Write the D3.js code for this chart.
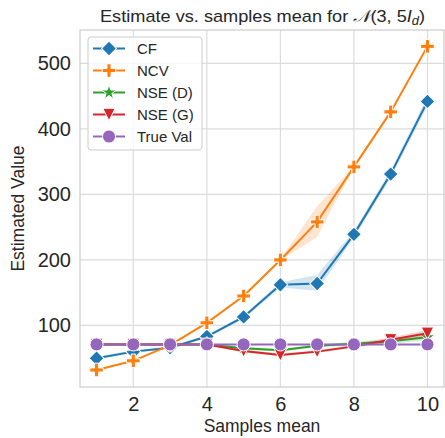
<!DOCTYPE html>
<html>
<head>
<meta charset="utf-8">
<script src="https://cdn.jsdelivr.net/npm/d3@7"></script>
<style>
  body { margin: 0; background: #fff; }
  svg { font-family: "Liberation Sans", Arial, sans-serif; }
</style>
</head>
<body>
<svg width="445" height="438"></svg>
<script>
    // Data
    var samplesMean = [1, 2, 3, 4, 5, 6, 7, 8, 9, 10];

    var cfMean = [50, 60, 66, 83, 113, 162, 164, 239, 331, 442];
    var cfLow  = [48, 58, 64, 81, 110, 158, 153, 234, 325, 435];
    var cfHigh = [52, 62, 68, 85, 116, 166, 177, 244, 337, 449];

    var ncvMean = [32, 46, 70, 104, 145, 200, 258, 342, 426, 526];
    var ncvLow  = [31, 45, 69, 103, 144, 199, 235, 341, 425, 525];
    var ncvHigh = [33, 47, 71, 105, 146, 201, 282, 343, 427, 527];

    var nseDMean = [71, 71, 71, 71, 65, 62, 69, 72, 76, 82];
    var nseDLow  = [70, 70, 70, 70, 63, 60, 67, 69, 72, 77];
    var nseDHigh = [72, 72, 72, 72, 67, 64, 71, 75, 80, 87];

    var nseGMean = [71, 71, 71, 71, 61, 55, 60, 68, 78, 88];
    var nseGLow  = [70, 70, 70, 70, 59, 53, 58, 66, 74, 83];
    var nseGHigh = [72, 72, 72, 72, 63, 57, 62, 70, 82, 93];

    var trueVal = [71, 71, 71, 71, 71, 71, 71, 71, 71, 71];

    var yTicks = [100, 200, 300, 400, 500];
    var xTicks = [2, 4, 6, 8, 10];

    var svg = d3.select("svg");
    // plot box (names avoid window.top etc.)
    var pL = 80, pR = 444, pT = 30, pB = 387;
    var textCol = "#262626", gridCol = "#dcdcdc";

    var x = d3.scaleLinear().domain([0.55, 10.45]).range([pL, pR]);
    var y = d3.scaleLinear().domain([6, 551]).range([pB, pT]);

    // grid
    svg.append("g").selectAll("line").data(xTicks).enter().append("line")
        .attr("x1", d => x(d)).attr("x2", d => x(d))
        .attr("y1", pT).attr("y2", pB)
        .attr("stroke", gridCol).attr("stroke-width", 1.2);
    svg.append("g").selectAll("line").data(yTicks).enter().append("line")
        .attr("x1", pL).attr("x2", pR)
        .attr("y1", d => y(d)).attr("y2", d => y(d))
        .attr("stroke", gridCol).attr("stroke-width", 1.2);

    // frame
    svg.append("rect")
        .attr("x", pL).attr("y", pT)
        .attr("width", pR - pL).attr("height", pB - pT)
        .attr("fill", "none").attr("stroke", "#cccccc").attr("stroke-width", 1.2);

    // axes (labels only, seaborn whitegrid has no tick marks)
    var xAxis = svg.append("g")
        .attr("transform", "translate(0," + pB + ")")
        .call(d3.axisBottom(x).tickValues(xTicks).tickSize(0).tickPadding(10));
    var yAxis = svg.append("g")
        .attr("transform", "translate(" + pL + ",0)")
        .call(d3.axisLeft(y).tickValues(yTicks).tickSize(0).tickPadding(9));
    [xAxis, yAxis].forEach(function(a) {
        a.select(".domain").remove();
        a.selectAll("text")
            .attr("fill", textCol)
            .style("font-size", "20px")
            .style("font-family", "'Liberation Sans', Arial, sans-serif");
    });

    // axis titles
    svg.append("text")
        .attr("x", (pL + pR) / 2).attr("y", 432)
        .attr("text-anchor", "middle").attr("fill", textCol)
        .style("font-size", "17.5px")
        .text("Samples mean");
    svg.append("text")
        .attr("transform", "translate(24," + ((pT + pB) / 2) + ") rotate(-90)")
        .attr("text-anchor", "middle").attr("fill", textCol)
        .style("font-size", "17.5px")
        .text("Estimated Value");

    // title: plain part + mathtext-like part
    var title = svg.append("text")
        .attr("x", 100).attr("y", 22)
        .attr("fill", textCol)
        .style("font-size", "17px");
    title.append("tspan").text("Estimate vs. samples mean for ");
    title.append("tspan").style("font-family", "'DejaVu Serif', serif").style("font-style", "italic").text("\uD835\uDCA9");
    title.append("tspan").text("(3, 5");
    title.append("tspan").style("font-style", "italic").text("I");
    title.append("tspan").style("font-style", "italic")
        .style("font-size", "12px").attr("dy", 3).text("d");
    title.append("tspan").attr("dy", -3).text(")");
    // squeeze / stretch to the width seen in the reference (x 100..425)
    var tw = title.node().getComputedTextLength();
    if (tw > 0) title.attr("textLength", 325).attr("lengthAdjust", "spacingAndGlyphs");

    // marker shapes
    var plusPath = function(s) {
        var a = s, b = s * 0.3;
        return "M" + (-b) + "," + (-a) + "H" + b + "V" + (-b) + "H" + a + "V" + b + "H" + b + "V" + a +
               "H" + (-b) + "V" + b + "H" + (-a) + "V" + (-b) + "H" + (-b) + "Z";
    };
    var triDownPath = function(s) {
        return "M" + (-s) + "," + (-s) + "L" + s + "," + (-s) + "L0," + s + "Z";
    };
    var markers = {
        diamond: { d: d3.symbol(d3.symbolSquare, 110)(), rot: 45 },
        plus: { d: plusPath(6.8), rot: 0 },
        star: { d: d3.symbol(d3.symbolStar, 70)(), rot: 0 },
        tri: { d: triDownPath(6.2), rot: 0 },
        circle: { d: d3.symbol(d3.symbolCircle, 135)(), rot: 0 }
    };

    var series = [
        { name: "CF", color: "#1f77b4", mean: cfMean, lo: cfLow, hi: cfHigh, marker: "diamond" },
        { name: "NCV", color: "#ff7f0e", mean: ncvMean, lo: ncvLow, hi: ncvHigh, marker: "plus" },
        { name: "NSE (D)", color: "#2ca02c", mean: nseDMean, lo: nseDLow, hi: nseDHigh, marker: "star" },
        { name: "NSE (G)", color: "#d62728", mean: nseGMean, lo: nseGLow, hi: nseGHigh, marker: "tri" },
        { name: "True Val", color: "#9467bd", mean: trueVal, lo: null, hi: null, marker: "circle" }
    ];

    var line = d3.line().x(d => x(d[0])).y(d => y(d[1]));
    var area = d3.area().x(d => x(d[0])).y0(d => y(d[1])).y1(d => y(d[2]));

    series.forEach(function(s) {
        var g = svg.append("g");
        if (s.lo) {
            g.append("path")
                .datum(samplesMean.map((v, i) => [v, s.lo[i], s.hi[i]]))
                .attr("d", area)
                .attr("fill", s.color).attr("fill-opacity", 0.2);
        }
        g.append("path")
            .datum(samplesMean.map((v, i) => [v, s.mean[i]]))
            .attr("d", line)
            .attr("fill", "none").attr("stroke", s.color).attr("stroke-width", 2);
        g.selectAll("path.mk")
            .data(samplesMean.map((v, i) => [v, s.mean[i]]))
            .enter().append("path")
            .attr("class", "mk")
            .attr("d", markers[s.marker].d)
            .attr("transform", d => "translate(" + x(d[0]) + "," + y(d[1]) + ") rotate(" + markers[s.marker].rot + ")")
            .attr("fill", s.color).attr("stroke", "#fff").attr("stroke-width", 1);
    });

    // legend
    var lg = svg.append("g");
    lg.append("rect")
        .attr("x", 88).attr("y", 37).attr("width", 114).attr("height", 113)
        .attr("rx", 3)
        .attr("fill", "#fff").attr("fill-opacity", 0.8)
        .attr("stroke", "#cccccc").attr("stroke-width", 1);
    series.forEach(function(s, i) {
        var cy = 48.5 + i * 22;
        lg.append("line")
            .attr("x1", 93).attr("x2", 125).attr("y1", cy).attr("y2", cy)
            .attr("stroke", s.color).attr("stroke-width", 2);
        lg.append("path")
            .attr("d", markers[s.marker].d)
            .attr("transform", "translate(109," + cy + ") rotate(" + markers[s.marker].rot + ")")
            .attr("fill", s.color).attr("stroke", "#fff").attr("stroke-width", 1);
        lg.append("text")
            .attr("x", 137).attr("y", cy + 5.5)
            .attr("fill", textCol).style("font-size", "15px")
            .text(s.name);
    });
</script>
</body>
</html>
